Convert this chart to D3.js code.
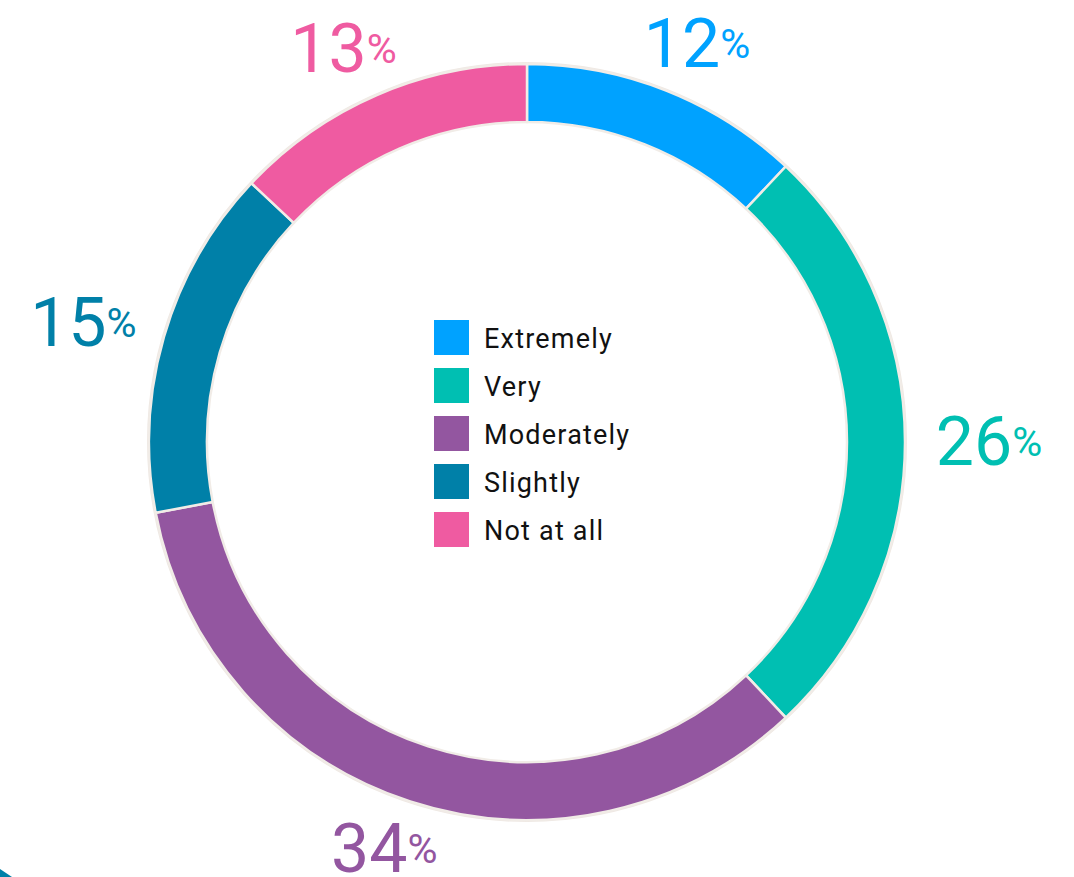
<!DOCTYPE html>
<html>
<head>
<meta charset="utf-8">
<script src="https://cdnjs.cloudflare.com/ajax/libs/d3/7.8.5/d3.min.js"></script>
<style>
  * { margin: 0; padding: 0; }
  body { background: #fff; width: 1074px; height: 877px; overflow: hidden; }
  svg { display: block; font-family: Roboto, "Noto Sans", sans-serif; }
</style>
</head>
<body>
<div id="chart"></div>
<script>
// Data
const categories = ['Extremely', 'Very', 'Moderately', 'Slightly', 'Not at all'];
const values = [12, 26, 34, 15, 13];
const colors = ['#00a2ff', '#00bfb2', '#9356a0', '#0080a8', '#ef5ba1'];

const width = 1074, height = 877;
const cx = 527, cy = 442,
    outerR = 378, innerR = 320;

const svg = d3.select('#chart').append('svg')
    .attr('width', width)
    .attr('height', height);

// small corner decoration, bottom left
svg.append('path')
    .attr('d', 'M0,869 L12,877 L0,877 Z')
    .attr('fill', '#0080a8');

const g = svg.append('g')
    .attr('transform', `translate(${cx},${cy})`);

const pie = d3.pie().sort(null).value(d => d.value);
const arcs = pie(categories.map((c, i) => ({ name: c, value: values[i], color: colors[i] })));

const arc = d3.arc().innerRadius(innerR).outerRadius(outerR);

// faint outer rim
g.append('circle')
    .attr('r', outerR + 1)
    .attr('fill', 'none')
    .attr('stroke', '#efe9e4')
    .attr('stroke-width', 2);

g.selectAll('path.slice')
    .data(arcs)
    .enter()
    .append('path')
    .attr('class', 'slice')
    .attr('d', arc)
    .attr('fill', d => d.data.color)
    .attr('stroke', '#f1ece7')
    .attr('stroke-width', 2.5);

// percentage labels around the ring (a bit wider than tall)
const labelA = 462, labelB = 428;
const labels = g.selectAll('text.pct')
    .data(arcs)
    .enter()
    .append('text')
    .attr('class', 'pct')
    .attr('x', d => labelA * Math.sin((d.startAngle + d.endAngle) / 2))
    .attr('y', d => -labelB * Math.cos((d.startAngle + d.endAngle) / 2))
    .attr('text-anchor', 'middle')
    .attr('dominant-baseline', 'central')
    .attr('fill', d => d.data.color)
    .style('font-size', '68px');

labels.append('tspan').text(d => d.data.value);
labels.append('tspan').style('font-size', '41px').text('%');

// legend in the middle
const legend = g.append('g')
    .attr('transform', 'translate(-93,-122)');

const rows = legend.selectAll('g')
    .data(categories)
    .enter()
    .append('g')
    .attr('transform', (d, i) => `translate(0,${i * 48})`);

rows.append('rect')
    .attr('width', 35)
    .attr('height', 35)
    .attr('fill', (d, i) => colors[i]);

rows.append('text')
    .attr('x', 50)
    .attr('y', 19)
    .attr('dominant-baseline', 'central')
    .attr('fill', '#111')
    .style('font-size', '27px')
    .style('letter-spacing', '1.2px')
    .text(d => d);
</script>
</body>
</html>
